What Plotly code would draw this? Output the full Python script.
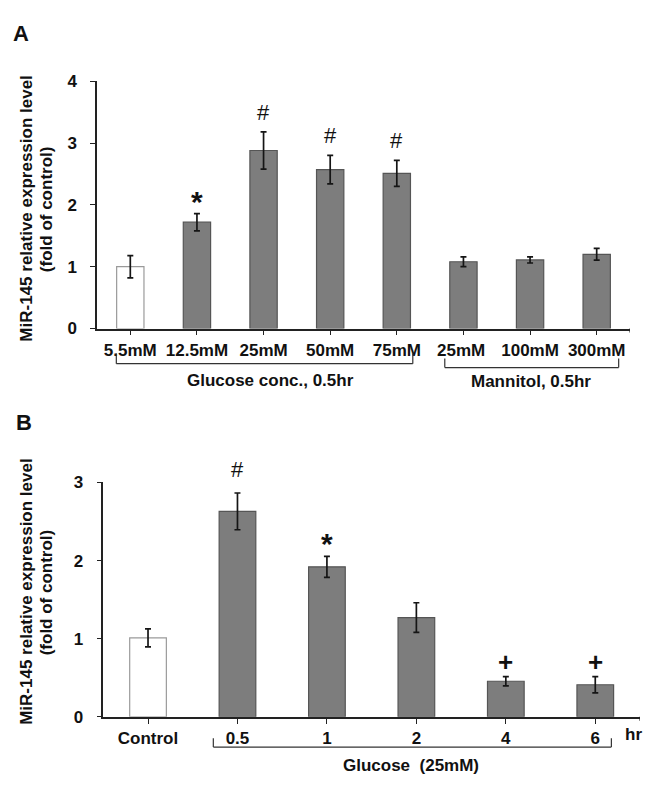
import plotly.graph_objects as go

# ---------------- data ----------------
a_categories = ["5.5mM", "12.5mM", "25mM", "50mM", "75mM", "25mM ", "100mM", "300mM"]
a_values = [1.00, 1.72, 2.88, 2.57, 2.51, 1.08, 1.11, 1.20]
a_errors = [0.18, 0.14, 0.30, 0.23, 0.21, 0.08, 0.05, 0.095]
a_marks = ["", "*", "#", "#", "#", "", "", ""]
a_group_labels = ["Glucose conc., 0.5hr", "Mannitol, 0.5hr"]

b_categories = ["Control", "0.5", "1", "2", "4", "6"]
b_values = [1.01, 2.63, 1.92, 1.27, 0.455, 0.41]
b_errors = [0.115, 0.235, 0.135, 0.19, 0.06, 0.105]
b_marks = ["", "#", "*", "", "+", "+"]
b_group_label = "Glucose  (25mM)"
b_unit_label = "hr"

y_title_1 = "MiR-145 relative expression level"
y_title_2 = "(fold of control)"

# ---------------- style ----------------
W, H = 665, 800
FONT = "Liberation Sans, Arial, sans-serif"
GREY = "#7d7d7d"
GREY_LINE = "#555555"

def px_x(p):
    return p / W

def px_y(p):
    return 1 - p / H

fig = go.Figure()

def bar_colors(n):
    fill = ["white"] + [GREY] * (n - 1)
    line = ["#9a9a9a"] + [GREY_LINE] * (n - 1)
    return fill, line

for cats, vals, errs, xa, ya in [
    (a_categories, a_values, a_errors, "x", "y"),
    (b_categories, b_values, b_errors, "x2", "y2"),
]:
    fill, line = bar_colors(len(cats))
    fig.add_trace(go.Bar(
        x=cats, y=vals, xaxis=xa, yaxis=ya,
        width=0.41,
        marker=dict(color=fill, line=dict(color=line, width=1.2)),
        error_y=dict(type="data", array=errs, visible=True,
                     color="#151515", thickness=1.7, width=3),
        showlegend=False, hoverinfo="skip",
    ))

tickfont = dict(family=FONT, size=17, color="#111111", weight="bold")
axis_common = dict(
    showline=True, linecolor="#222222", linewidth=1.5,
    ticks="outside", ticklen=5, tickwidth=1.2, tickcolor="#222222",
    showgrid=False, zeroline=False, tickfont=tickfont,
    fixedrange=True,
)

fig.update_layout(
    width=W, height=H,
    margin=dict(l=0, r=0, t=0, b=0),
    paper_bgcolor="white", plot_bgcolor="white",
    xaxis=dict(domain=[px_x(97), px_x(630)], anchor="y",
               type="category", range=[-0.5, 7.5], **axis_common),
    yaxis=dict(domain=[px_y(327.3), px_y(74)], anchor="x",
               range=[0, 4], tickvals=[0, 1, 2, 3, 4], **axis_common),
    xaxis2=dict(domain=[px_x(103.3), px_x(640)], anchor="y2",
                type="category", range=[-0.5, 5.5], **axis_common),
    yaxis2=dict(domain=[px_y(725), px_y(485)], anchor="x2",
                range=[0, 3], tickvals=[0, 1, 2, 3], **axis_common),
)
fig.update_xaxes(ticklabelstandoff=0)
fig.update_yaxes(ticklabelstandoff=10)

ann = []
# panel letters
ann.append(dict(text="A", x=px_x(11), y=px_y(25), xref="paper", yref="paper",
                xanchor="left", yanchor="middle", showarrow=False,
                font=dict(family=FONT, size=22, color="#111111", weight="bold")))
ann.append(dict(text="B", x=px_x(14), y=px_y(424), xref="paper", yref="paper",
                xanchor="left", yanchor="middle", showarrow=False,
                font=dict(family=FONT, size=22, color="#111111", weight="bold")))

# y titles
titlefont = dict(family=FONT, size=17, color="#111111", weight="bold")
for cy in (204.5, 597):
    ann.append(dict(text=y_title_1, x=px_x(27), y=px_y(cy), xref="paper", yref="paper",
                    textangle=-90, showarrow=False, xanchor="center", yanchor="middle",
                    font=titlefont))
    ann.append(dict(text=y_title_2, x=px_x(46.5), y=px_y(cy), xref="paper", yref="paper",
                    textangle=-90, showarrow=False, xanchor="center", yanchor="middle",
                    font=titlefont))

# significance marks (placed above each error bar, by category index)
mark_style = {
    "*": dict(size=30, weight="bold", shift=-6),
    "#": dict(size=22, weight="normal", shift=5),
    "+": dict(size=26, weight="bold", shift=-2),
}
for cats, vals, errs, marks, xa, ya, extra in [
    (a_categories, a_values, a_errors, a_marks, "x", "y", 0),
    (b_categories, b_values, b_errors, b_marks, "x2", "y2", 4),
]:
    for i, (v, e, m) in enumerate(zip(vals, errs, marks)):
        if not m:
            continue
        st = mark_style[m]
        shift = st["shift"] + (extra if m == "#" else 0)
        ann.append(dict(text=m, x=i, y=v + e, xref=xa, yref=ya,
                        yanchor="bottom", yshift=shift,
                        showarrow=False,
                        font=dict(family=FONT, size=st["size"], color="#111111",
                                  weight=st["weight"])))

groupfont = dict(family=FONT, size=17, color="#111111", weight="bold")
ann.append(dict(text=a_group_labels[0], x=2.11, y=px_y(381), xref="x", yref="paper",
                showarrow=False, yanchor="middle", font=groupfont))
ann.append(dict(text=a_group_labels[1], x=6.01, y=px_y(382), xref="x", yref="paper",
                showarrow=False, yanchor="middle", font=groupfont))
ann.append(dict(text=b_group_label, x=2.94, y=px_y(775), xref="x2", yref="paper",
                showarrow=False, yanchor="middle", font=groupfont))
ann.append(dict(text=b_unit_label, x=px_x(643.5), y=px_y(743), xref="paper", yref="paper",
                showarrow=False, yanchor="middle", font=groupfont))
fig.update_layout(annotations=ann)

# brackets
def bracket(xref, x0, x1, y_line, y_top):
    style = dict(color="#333333", width=1.2)
    return [
        dict(type="line", xref=xref, yref="paper", x0=x0, x1=x1,
             y0=px_y(y_line), y1=px_y(y_line), line=style),
        dict(type="line", xref=xref, yref="paper", x0=x0, x1=x0,
             y0=px_y(y_line), y1=px_y(y_top), line=style),
        dict(type="line", xref=xref, yref="paper", x0=x1, x1=x1,
             y0=px_y(y_line), y1=px_y(y_top), line=style),
    ]

shapes = []
shapes += bracket("x", -0.21, 4.24, 363.3, 353)
shapes += bracket("x", 4.72, 7.33, 367.3, 358)
shapes += bracket("x2", 0.73, 5.18, 756, 747)
# end ticks at right end of x axes
shapes.append(dict(type="line", xref="x", yref="paper", x0=7.5, x1=7.5,
                   y0=px_y(327.3), y1=px_y(331.3), line=dict(color="#222222", width=1.2)))
shapes.append(dict(type="line", xref="x2", yref="paper", x0=5.5, x1=5.5,
                   y0=px_y(725), y1=px_y(729), line=dict(color="#222222", width=1.2)))
fig.update_layout(shapes=shapes)

fig.write_html("out.html", config={"displayModeBar": False},
               post_script="document.body.style.margin='0';")
